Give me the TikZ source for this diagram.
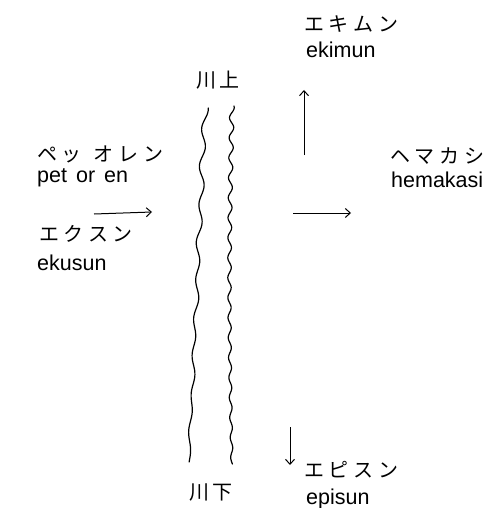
\documentclass[tikz,border=0pt]{standalone}
\usepackage{fontspec}
\setmainfont{Liberation Sans}
\newfontfamily\jpkana[LetterSpace=24]{Noto Sans CJK JP}
\newfontfamily\jpkanji[LetterSpace=12]{Noto Sans CJK JP}
\usetikzlibrary{arrows.meta}
\begin{document}
\begin{tikzpicture}[x=1pt,y=-1pt,
  kana/.style={inner sep=0pt,anchor=west,font=\jpkana\fontsize{20}{22}\selectfont},
  kanji/.style={inner sep=0pt,anchor=center,font=\jpkanji\fontsize{20}{22}\selectfont},
  latin/.style={inner sep=0pt,anchor=base west,font=\fontsize{21.5}{24}\selectfont},
  river/.style={line width=1.2pt,line cap=round,line join=round},
  dirarrow/.style={line width=1pt,-{Straight Barb[length=5pt,width=9pt]}}]
\useasboundingbox (0,0) rectangle (485,508);
% labels
\node[kana] (ekimunJ) at (304,24) {エキムン};
\node[latin] (ekimunL) at (306,58) {ekimun};
\node[kanji] (kawakami) at (218,80) {川上};
\node[kana] (petJ) at (37,154) {ペッ\hspace{12pt}オレン};
\node[latin] (petL) at (37,182) {pet\hspace{9pt}or\hspace{9pt}en};
\node[kana] (hemakasiJ) at (390,156) {ヘマカシ};
\node[latin] (hemakasiL) at (391,187) {hemakasi};
\node[kana] (ekusunJ) at (39,234) {エクスン};
\node[latin] (ekusunL) at (37,270) {ekusun};
\node[kana] (episunJ) at (304,470) {エピスン};
\node[latin] (episunL) at (306,504) {episun};
\node[kanji] (kawashimo) at (211,492) {川下};
% river banks
\draw[river] plot[domain=108:462,samples=200,variable=\t]
  ({205-16*(\t-108)/354+(2.8-1.8*(\t-108)/354)*sin(9.5*(\t-100))+0.6*sin(4*\t)},\t);
\draw[river] plot[domain=106:464,samples=220,variable=\t]
  ({232-2.5*sin((\t-106)*0.5)+(2.3-1.2*(\t-106)/358)*sin(18*(\t-106)+60)},\t);
% arrows
\coordinate (upA) at (304,155);
\coordinate (upB) at (304,90);
\draw[dirarrow] (upA) -- (upB);
\coordinate (rA) at (293,213);
\coordinate (rB) at (351,213);
\draw[dirarrow] (rA) -- (rB);
\coordinate (lA) at (94,214);
\coordinate (lB) at (152,212);
\draw[dirarrow] (lA) -- (lB);
\coordinate (dA) at (290,427);
\coordinate (dB) at (290,465);
\draw[dirarrow] (dA) -- (dB);
\end{tikzpicture}
\end{document}
